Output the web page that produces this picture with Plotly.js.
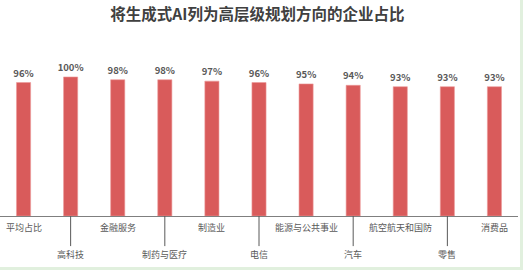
<!DOCTYPE html>
<html><head><meta charset="utf-8">
<script src="https://cdn.plot.ly/plotly-3.0.1.min.js"></script>
<style>
html,body{margin:0;padding:0;background:#e1f0de;width:523px;height:270px;overflow:hidden;}
#chart{width:520px;height:267px;background:#fff;}
</style></head><body>
<div id="chart"></div>
<script>
const categories = ["平均占比","高科技","金融服务","制药与医疗","制造业","电信","能源与公共事业","汽车","航空航天和国防","零售","消费品"];
const values = [96,100,98,98,97,96,95,94,93,93,93];
const titleText = "将生成式AI列为高层级规划方向的企业占比";

const font = "'Noto Sans CJK SC', 'Noto Sans', sans-serif";
const annotations = categories.map((c,i)=>({
  x:c, xref:'x', yref:'paper', y: i%2===0 ? -0.075 : -0.245,
  yanchor:'middle', xanchor:'center', showarrow:false, text:c,
  font:{family:font,size:9,color:'#595959'}
}));
const shapes = categories.map((c,i)=>i%2===1 ? ({
  type:'line', xref:'x', yref:'paper', x0:c, x1:c, y0:0, y1:-0.193,
  line:{color:'#595959',width:1}
}) : null).filter(s=>s);

Plotly.newPlot('chart',[{
  type:'bar', x:categories, y:values,
  marker:{color:'#d95b5b', line:{color:'#ec9a9a',width:0.6}},
  texttemplate:'%{y}%', textposition:'outside', cliponaxis:false, constraintext:'none',
  textfont:{family:font,size:9.5,color:'#595959',weight:600},
  hoverinfo:'skip'
}],{
  width:520, height:267,
  margin:{l:0,r:2,t:60,b:51},
  paper_bgcolor:'#fff', plot_bgcolor:'#fff',
  title:{text:titleText, x:0.495, y:0.945, yanchor:'middle',
    font:{family:font,size:15.5,color:'#404040',weight:700}},
  bargap:0.7,
  xaxis:{showticklabels:false, ticks:'', showline:true, linecolor:'#7f7f7f', linewidth:1, showgrid:false, zeroline:false},
  yaxis:{visible:false, range:[0,112.2], showgrid:false, zeroline:false},
  annotations:annotations, shapes:shapes, showlegend:false
},{displayModeBar:false,staticPlot:true});
</script></body></html>
